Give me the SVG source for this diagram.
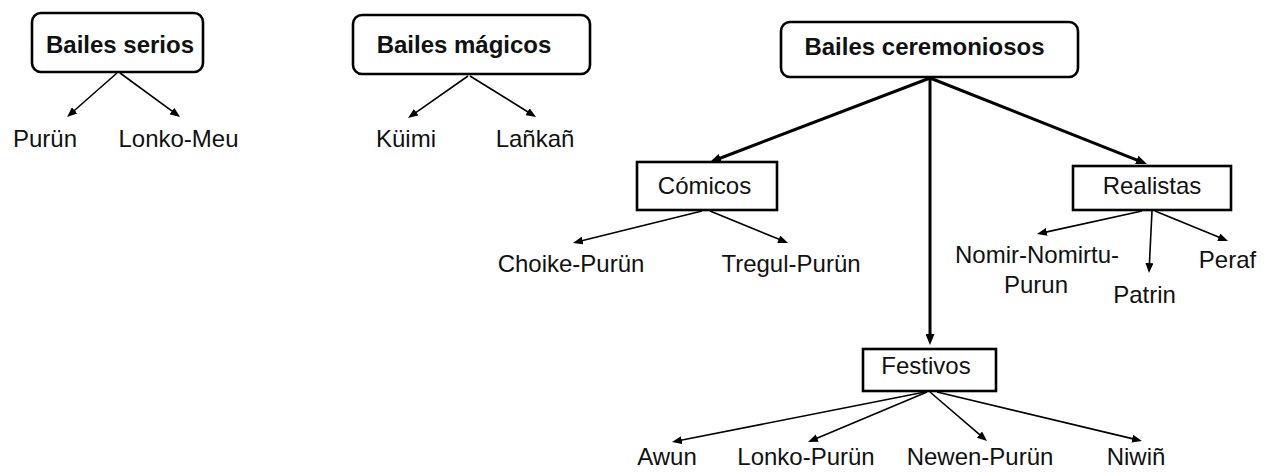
<svg xmlns="http://www.w3.org/2000/svg" width="1272" height="472" viewBox="0 0 1272 472">
<style>
.box{fill:#fff;stroke:#000;stroke-width:2.6}
.t{font-family:"Liberation Sans",Arial,sans-serif;font-size:24px;fill:#111;text-anchor:middle}
.b{font-weight:bold}
.thin{stroke:#000;stroke-width:1.6;fill:none;marker-end:url(#ah)}
.thick{stroke:#000;stroke-width:3;fill:none;marker-end:url(#ahb)}
</style>
<defs>
<marker id="ah" markerUnits="userSpaceOnUse" markerWidth="10" markerHeight="8" viewBox="0 0 10 8" refX="1" refY="4" orient="auto"><path d="M0,0 L10,4 L0,8 z" fill="#000"/></marker>
<marker id="ahb" markerUnits="userSpaceOnUse" markerWidth="11" markerHeight="9" viewBox="0 0 11 9" refX="1" refY="4.5" orient="auto"><path d="M0,0 L11,4.5 L0,9 z" fill="#000"/></marker>
</defs>
<rect width="1272" height="472" fill="#fff"/>
<g id="connectors">
<line class="thin" x1="117" y1="73" x2="73.8" y2="111"/>
<line class="thin" x1="120" y1="73" x2="172.8" y2="111.7"/>
<line class="thin" x1="468" y1="76" x2="415.4" y2="112.8"/>
<line class="thin" x1="470" y1="76" x2="528.4" y2="112.2"/>
<line class="thick" x1="930" y1="78" x2="719.4" y2="158.5"/>
<line class="thick" x1="930" y1="78" x2="1137.7" y2="160.3"/>
<line class="thick" x1="930" y1="78" x2="930" y2="335"/>
<line class="thin" x1="702" y1="211" x2="581.7" y2="240.8"/>
<line class="thin" x1="710" y1="211" x2="779.7" y2="239.6"/>
<line class="thin" x1="1142" y1="211" x2="1045.8" y2="232.1"/>
<line class="thin" x1="1152" y1="211" x2="1149.4" y2="264"/>
<line class="thin" x1="1155" y1="211" x2="1219.7" y2="237.6"/>
<line class="thin" x1="925" y1="392" x2="680.8" y2="440.3"/>
<line class="thin" x1="927" y1="392" x2="816.3" y2="438.5"/>
<line class="thin" x1="930" y1="392" x2="980.2" y2="435.2"/>
<line class="thin" x1="937" y1="392" x2="1133.2" y2="438.9"/>
</g>
<g id="serios"><rect class="box" x="32" y="13" width="171" height="59" rx="9"/><text class="t b" x="120" y="53">Bailes serios</text></g>
<g id="purun"><text class="t" x="45" y="147">Purün</text></g>
<g id="lonko-meu"><text class="t" x="178.5" y="147">Lonko-Meu</text></g>
<g id="magicos"><rect class="box" x="353" y="15" width="237" height="59" rx="9"/><text class="t b" x="464" y="53">Bailes mágicos</text></g>
<g id="kuimi"><text class="t" x="406" y="147">Küimi</text></g>
<g id="lankan"><text class="t" x="535" y="147">Lañkañ</text></g>
<g id="ceremoniosos"><rect class="box" x="781" y="22" width="297" height="55" rx="9"/><text class="t b" x="924.5" y="55">Bailes ceremoniosos</text></g>
<g id="comicos"><rect class="box" x="637" y="162" width="140" height="48"/><text class="t" x="704.5" y="194">Cómicos</text></g>
<g id="choike"><text class="t" x="571" y="272">Choike-Purün</text></g>
<g id="tregul"><text class="t" x="791" y="272">Tregul-Purün</text></g>
<g id="realistas"><rect class="box" x="1073" y="166" width="158" height="44"/><text class="t" x="1152" y="194">Realistas</text></g>
<g id="nomir"><text class="t" x="1037" y="263">Nomir-Nomirtu-</text><text class="t" x="1036" y="293">Purun</text></g>
<g id="patrin"><text class="t" x="1144.5" y="303">Patrin</text></g>
<g id="peraf"><text class="t" x="1227.5" y="268">Peraf</text></g>
<g id="festivos"><rect class="box" x="863" y="349" width="133" height="42"/><text class="t" x="926" y="374">Festivos</text></g>
<g id="awun"><text class="t" x="667" y="465">Awun</text></g>
<g id="lonko-purun"><text class="t" x="806" y="465">Lonko-Purün</text></g>
<g id="newen"><text class="t" x="980" y="465">Newen-Purün</text></g>
<g id="niwin"><text class="t" x="1136" y="465">Niwiñ</text></g>
</svg>
